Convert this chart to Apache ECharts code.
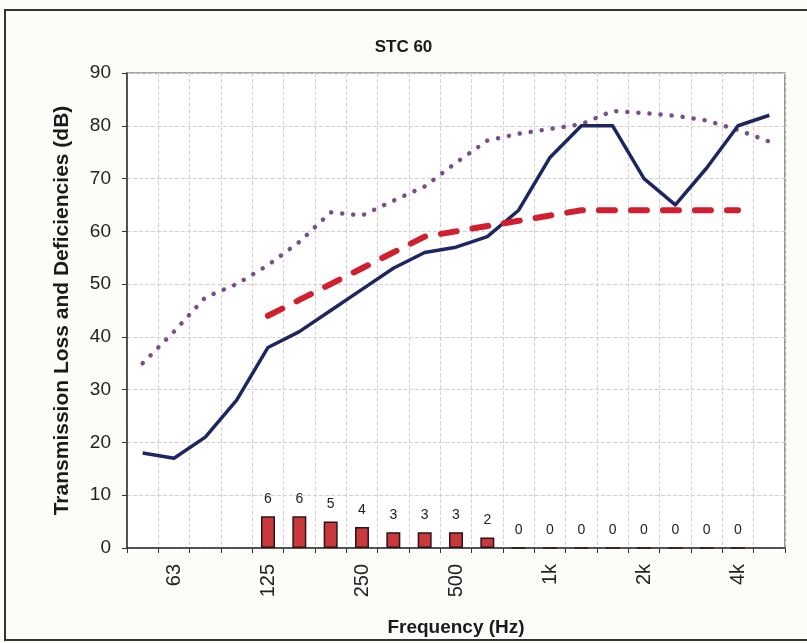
<!DOCTYPE html>
<html>
<head>
<meta charset="utf-8">
<script src="https://cdn.jsdelivr.net/npm/echarts@6/dist/echarts.min.js"></script>
<style>
html,body{margin:0;padding:0;background:#fcfcf8;}
#c{width:807px;height:643px;}
</style>
</head>
<body>
<div id="c"></div>
<script>
// Third-octave band centre frequencies (Hz)
const categories = ['50','63','80','100','125','160','200','250','315','400','500','630','800','1k','1.25k','1.6k','2k','2.5k','3.15k','4k','5k'];
// Measured transmission loss (dB)
const transmissionLoss = [18,17,21,28,38,41,45,49,53,56,57,59,64,74,80,80,70,65,72,80,82];
// STC 60 reference contour (dB)
const stcContour = [null,null,null,null,44,47,50,53,56,59,60,61,62,63,64,64,64,64,64,64,null];
// Deficiencies below contour (dB)
const deficiencies = [null,null,null,null,6,6,5,4,3,3,3,2,0,0,0,0,0,0,0,0,null];
// Dotted comparison curve (dB)
const dottedCurve = [35,41,47.5,50,53.6,58,63.6,63,65.8,68.5,73,77.2,78.5,79.4,80.3,82.8,82.4,81.9,81,79.2,77];
// Y-axis ticks
const yMin = 0, yMax = 90, yStep = 10;

const chart = echarts.init(document.getElementById('c'), null, {renderer:'canvas'});
const FONT = 'Liberation Sans, Arial, sans-serif';
chart.setOption({
  backgroundColor: '#fcfcf8',
  animation: false,
  title: {
    text: 'STC 60', left: 'center', top: 34,
    textStyle: {fontFamily: FONT, fontSize: 17, fontWeight: 'bold', color: '#1a1a1a'}
  },
  graphic: [{
    type: 'rect', silent: true, z: -1,
    shape: {x: 5, y: 10, width: 830, height: 630},
    style: {fill: null, stroke: '#333', lineWidth: 2}
  }],
  grid: {
    left: 127, right: 22, top: 73, bottom: 95,
    show: true, backgroundColor: '#ffffff', borderColor: '#555', borderWidth: 1.2
  },
  xAxis: {
    type: 'category', data: categories, boundaryGap: true,
    name: 'Frequency (Hz)', nameLocation: 'middle', nameGap: 70,
    nameTextStyle: {fontFamily: FONT, fontSize: 19, fontWeight: 'bold', color: '#1a1a1a'},
    axisLine: {lineStyle: {color: '#333', width: 1.5}},
    axisTick: {show: true, interval: 0, length: 5, lineStyle: {color: '#333'}},
    axisLabel: {
      interval: (i) => i % 3 === 1, rotate: 90, margin: 16,
      fontFamily: FONT, fontSize: 20, color: '#222'
    },
    splitLine: {show: true, interval: 0, lineStyle: {color: '#d2d2d2', type: 'dashed', width: 1}}
  },
  yAxis: {
    type: 'value', min: yMin, max: yMax, interval: yStep,
    name: 'Transmission Loss and Deficiencies (dB)', nameLocation: 'middle', nameGap: 54,
    nameTextStyle: {fontFamily: FONT, fontSize: 21, fontWeight: 'bold', color: '#1a1a1a'},
    axisLine: {show: true, lineStyle: {color: '#333', width: 1.5}},
    axisTick: {show: true, length: 5, lineStyle: {color: '#333'}},
    axisLabel: {margin: 16, fontFamily: FONT, fontSize: 19, color: '#222'},
    splitLine: {show: true, lineStyle: {color: '#d2d2d2', type: 'dashed', width: 1}}
  },
  series: [
    {
      type: 'bar', data: deficiencies, barWidth: 14, z: 2,
      itemStyle: {color: '#c9383a', borderColor: '#2a1515', borderWidth: 1.5},
      label: {show: true, position: 'top', distance: 10, fontFamily: FONT, fontSize: 14, color: '#222'}
    },
    {
      type: 'line', data: dottedCurve, symbol: 'none', z: 3,
      lineStyle: {color: '#7a4d8c', width: 4.5, type: [0.1, 11], cap: 'round'}
    },
    {
      type: 'line', data: transmissionLoss, symbol: 'none', z: 4,
      lineStyle: {color: '#1e2660', width: 3.5, join: 'round'}
    },
    {
      type: 'line', data: stcContour, symbol: 'none', z: 5,
      lineStyle: {color: '#d01f2f', width: 6, type: [16, 16], cap: 'round'}
    }
  ]
});
</script>
</body>
</html>
